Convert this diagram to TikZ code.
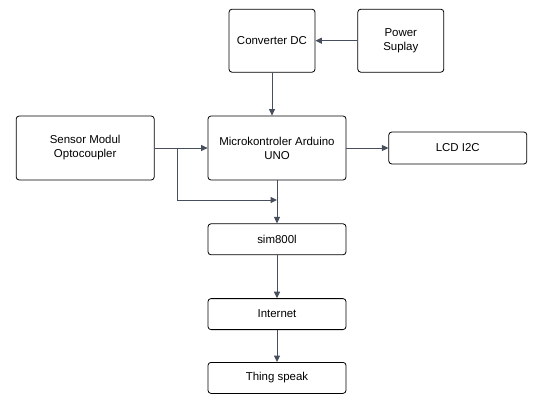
\documentclass[tikz,border=0pt]{standalone}
\usepackage{fontspec}
\setmainfont{Liberation Sans}
\usetikzlibrary{arrows.meta, positioning}
\definecolor{linegray}{HTML}{474E5C}
\tikzset{
  box/.style={rectangle, draw, rounded corners=3bp, align=center, inner sep=2pt, line width=0.8bp, font=\fontsize{11.5}{14}\selectfont, minimum width=138bp, minimum height=64bp},
  smallbox/.style={box, minimum width=86bp, minimum height=63bp},
  flatbox/.style={box, minimum height=31bp},
  line/.style={-{Triangle[length=6.5bp, width=6bp]}, draw=linegray, line width=1bp}
}

\begin{document}
\begin{tikzpicture}[node distance=43bp and 53bp]
    \useasboundingbox (0,0) rectangle (547bp,-409bp);
    \node[box] (mcu) at (277bp,-148bp) {Microkontroler Arduino\\UNO};
    \node[box, left=of mcu] (sensor) {Sensor Modul\\Optocoupler};
    \node[smallbox, above=43bp of mcu, xshift=-5bp] (conv) {Converter DC};
    \node[smallbox, right=42bp of conv] (power) {Power\\Suplay};
    \node[flatbox, minimum height=32bp, right=42bp of mcu] (lcd) {LCD I2C};
    \node[flatbox, below=of mcu] (sim) {sim800l};
    \node[flatbox, below=of sim] (inet) {Internet};
    \node[flatbox, below=32bp of inet] (ts) {Thing speak};
    \coordinate (split) at ([xshift=23bp]sensor.east);
    \coordinate (bend) at ([yshift=-52bp]split);
    \draw[line] (power) -- (conv);
    \draw[line] (conv.south) -- (conv.south |- mcu.north);
    \draw[line] (sensor) -- (mcu);
    \draw[line] (mcu) -- (lcd);
    \draw[line] (mcu) -- (sim);
    \draw[line] (split) -- (bend) -- (bend -| mcu.south);
    \draw[line] (sim) -- (inet);
    \draw[line] (inet) -- (ts);
  \end{tikzpicture}
\end{document}
